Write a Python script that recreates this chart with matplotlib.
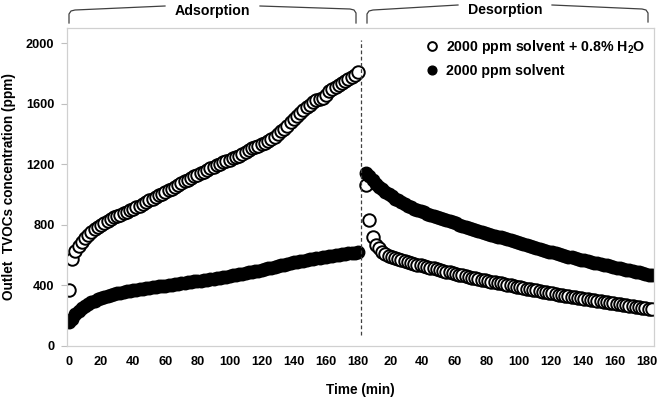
import numpy as np
import matplotlib
matplotlib.use("Agg")
import matplotlib.pyplot as plt
from matplotlib.lines import Line2D

plt.rcParams['font.family'] = ['Liberation Sans', 'DejaVu Sans']
plt.rcParams['font.weight'] = 'bold'
plt.rcParams['mathtext.fontset'] = 'custom'
plt.rcParams['mathtext.rm'] = 'Liberation Sans:bold'
plt.rcParams['mathtext.bf'] = 'Liberation Sans:bold'

# adsorption step, one reading every 2 min (0..180 min)
ads_time = np.arange(0, 181, 2)
ads_water = [370, 575, 625, 660, 688, 712, 735, 755, 772, 787,
             800, 813, 826, 838, 849, 859, 868, 877, 886, 895,
             905, 915, 926, 938, 950, 962, 973, 984, 995, 1006,
             1017, 1028, 1040, 1052, 1064, 1076, 1087, 1098, 1109, 1120,
             1131, 1141, 1152, 1162, 1173, 1183, 1194, 1203, 1212, 1221,
             1230, 1239, 1248, 1257, 1270, 1283, 1296, 1308, 1316, 1324,
             1332, 1343, 1355, 1368, 1383, 1400, 1418, 1436, 1456, 1478,
             1500, 1521, 1540, 1558, 1576, 1593, 1610, 1622, 1630, 1638,
             1660, 1686, 1700, 1713, 1725, 1737, 1749, 1761, 1774, 1790, 1808]
ads_dry = [160, 178, 210, 232, 250, 265, 278, 290, 300, 310,
           318, 325, 331, 337, 343, 348, 353, 357, 361, 365,
           369, 372, 375, 378, 381, 384, 387, 390, 393, 396,
           399, 402, 405, 408, 411, 414, 417, 420, 423, 426,
           429, 432, 435, 438, 441, 445, 448, 451, 455, 458,
           462, 466, 470, 474, 478, 482, 486, 490, 494, 498,
           502, 507, 512, 517, 522, 527, 532, 537, 542, 547,
           552, 556, 560, 564, 568, 572, 576, 580, 584, 587,
           590, 593, 596, 599, 602, 605, 608, 611, 614, 617, 620]

# desorption step, one reading every 2 min, plotted after the adsorption part
des_time = np.arange(0, 179, 2)
des_shift = 185
des_water = [1062, 832, 720, 667, 645, 620, 606, 596, 589, 582,
             575, 568, 561, 555, 549, 543, 538, 533, 527, 522,
             517, 512, 507, 501, 496, 491, 486, 481, 476, 472,
             467, 462, 457, 452, 447, 442, 438, 434, 429, 425,
             421, 417, 413, 408, 404, 400, 396, 392, 388, 383,
             379, 375, 371, 367, 362, 358, 354, 350, 347, 343,
             339, 336, 332, 328, 325, 321, 317, 314, 311, 308,
             305, 302, 298, 295, 292, 289, 286, 283, 279, 276,
             273, 270, 267, 263, 260, 257, 254, 251, 247, 244]
des_dry = [1145, 1120, 1095, 1072, 1052, 1035, 1018, 1003, 988, 974,
           961, 949, 938, 927, 917, 908, 899, 890, 882, 874,
           866, 858, 851, 844, 837, 830, 823, 816, 809, 802,
           795, 788, 781, 775, 768, 761, 754, 748, 742, 736,
           729, 723, 717, 710, 704, 698, 692, 686, 679, 673,
           667, 660, 654, 648, 641, 635, 629, 623, 618, 612,
           607, 601, 596, 590, 585, 580, 574, 570, 565, 560,
           556, 551, 546, 541, 537, 532, 527, 522, 518, 513,
           508, 504, 499, 495, 490, 486, 481, 477, 472, 468]

tick_minutes = [0, 20, 40, 60, 80, 100, 120, 140, 160, 180]
label_water = r'2000 ppm solvent + 0.8% H$_\mathbf{2}$O'
label_dry = '2000 ppm solvent'

W, H = 662, 397
fig = plt.figure(figsize=(W / 100, H / 100), dpi=100)
ax = fig.add_axes([67 / W, 1 - 346 / H, 587 / W, 318 / H])

ms = 9
ax.plot(ads_time, ads_water, 'o', ls='none', ms=ms, mfc='white', mec='black', mew=1.4, label=label_water)
ax.plot(des_time + des_shift, des_water, 'o', ls='none', ms=ms, mfc='white', mec='black', mew=1.4)
ax.plot(ads_time, ads_dry, 'o', ls='none', ms=ms, color='black', label=label_dry)
ax.plot(des_time + des_shift, des_dry, 'o', ls='none', ms=ms, color='black')

ax.axvline(182, ymin=0.035, ymax=0.962, color='#404040', lw=0.9, ls=(0, (3, 2)))

ax.set_xlim(-1.25, 364.3)
ax.set_ylim(0, 2100)

pos = tick_minutes + [t + 180 for t in tick_minutes[1:]]
labels = [str(t) for t in tick_minutes] + [str(t) for t in tick_minutes[1:]]
ax.set_xticks(pos)
ax.set_xticklabels(labels)
ax.set_yticks([0, 400, 800, 1200, 1600, 2000])
ax.tick_params(axis='x', length=0, pad=7, labelsize=9.2)
ax.tick_params(axis='y', length=4, width=0.8, color='#bfbfbf', pad=5, labelsize=9.2)
for s in ax.spines.values():
    s.set_color('#d0d0d0')
    s.set_linewidth(0.9)

ax.set_xlabel('Time (min)', fontsize=9.8, fontweight='bold', labelpad=11)
ax.set_ylabel('Outlet  TVOCs concentration (ppm)', fontsize=9.8, fontweight='bold', labelpad=7)

leg = ax.legend(loc='upper left', bbox_to_anchor=(0.603, 0.985), frameon=False, fontsize=10.2,
                handlelength=0.8, handletextpad=0.6, labelspacing=0.55, markerscale=0.7,
                borderaxespad=0)

# brackets over the two steps (figure pixel coordinates, y from top)
def bracket(pts):
    xs = [p[0] / W for p in pts]
    ys = [1 - p[1] / H for p in pts]
    fig.add_artist(Line2D(xs, ys, color='#404040', lw=0.9))

bracket([(69, 23), (69, 14), (71, 11), (75, 10), (165, 6)])
bracket([(260, 6), (350, 9), (354, 10), (356, 13), (356, 23)])
bracket([(367, 23), (367, 14), (369, 11), (373, 10), (458, 5)])
bracket([(552, 5), (642, 9), (646, 10), (648, 13), (648, 22)])
fig.text(212 / W, 1 - 11 / H, 'Adsorption', ha='center', va='center', fontsize=10.2, fontweight='bold')
fig.text(505 / W, 1 - 10 / H, 'Desorption', ha='center', va='center', fontsize=10.2, fontweight='bold')

fig.savefig('out.png', dpi=100)
